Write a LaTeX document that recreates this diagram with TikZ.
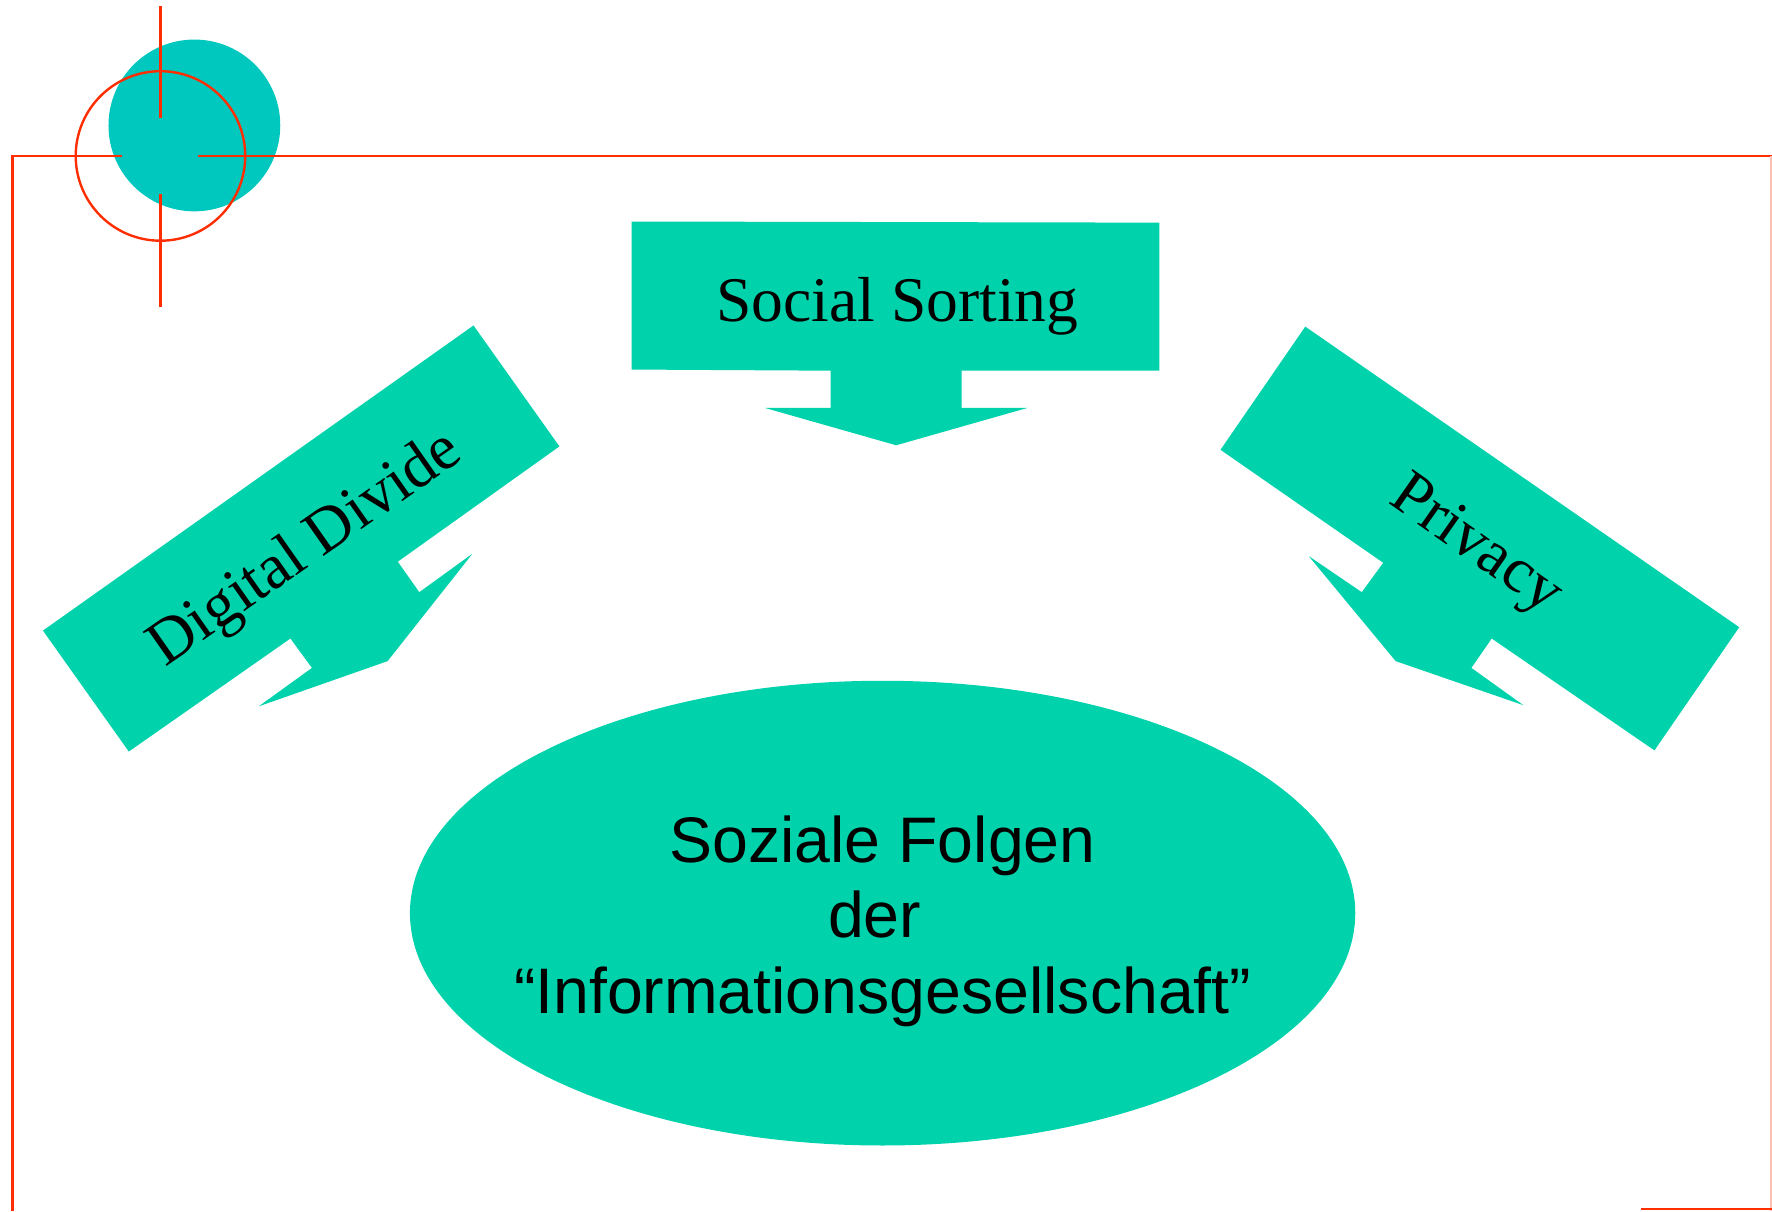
\documentclass[tikz,border=0pt]{standalone}
\usepackage{fontspec}
\setmainfont{Liberation Serif}
\newfontfamily\folgenfont{Liberation Sans}
\usepackage{tikz}
\usetikzlibrary{positioning,shapes.geometric}
\definecolor{shapegreen}{RGB}{0,211,172}
\definecolor{discgreen}{RGB}{0,200,190}
\definecolor{framered}{RGB}{255,45,0}
\tikzset{
    caption/.style = {
        font=\fontsize{16}{19}\selectfont,
        inner sep=0pt
    },
    bigarrow/.style = {
        fill=shapegreen,
        draw=none
    },
    folgen/.style = {
        shape=ellipse,
        fill=shapegreen,
        minimum width=8.36cm,
        minimum height=4.11cm,
        inner sep=0pt
    },
    folgentext/.style = {
        inner sep=0pt,
        align=center,
        font=\folgenfont\fontsize{16.2}{19}\selectfont
    },
    frame/.style = {
        draw=framered,
        line width=0.6pt
    },
}
\begin{document}
\begin{tikzpicture}[x=0.01cm, y=-0.01cm]
            \useasboundingbox (0,0) rectangle (1568,1072);

            % logo in the corner
            \fill[discgreen] (172,111) circle (76);
            \draw[frame] (142,138) circle (75);
            \draw[frame] (142,5) -- (142,104);
            \draw[frame] (142,172) -- (142,272);
            \draw[frame] (11,1072) -- (11,138) -- (108,138);
            \draw[frame] (175,138) -- (1568,138);
            \draw[frame, framered!30] (1567,138) -- (1567,1072);
            \draw[frame] (1452,1070) -- (1568,1070);

            % the three arrows
            \path[bigarrow] (559,196) -- (1026,197) -- (1026,328) -- (851,328) -- (851,361)
                -- (909,361) -- (793,394) -- (677,361) -- (735,361) -- (735,328) -- (559,327) -- cycle;
            \path[bigarrow] (38,558) -- (419,288) -- (495,395) -- (352,497) -- (371,524)
                -- (418,490) -- (343,585) -- (229,625) -- (276,591) -- (257,565) -- (114,665) -- cycle;
            \path[bigarrow] (1155,289) -- (1539,555) -- (1464,664) -- (1320,565) -- (1302,591)
                -- (1348,624) -- (1235,585) -- (1158,492) -- (1205,524) -- (1224,498) -- (1080,398) -- cycle;

            \node[caption] (sorting) at (794,271) {Social Sorting};
            \node[caption, rotate=35] (divide) at (271,487) {Digital Divide};
            \node[caption, rotate=-35] (privacy) at (1305,484) {Privacy};

            % the ellipse in the middle
            \node[folgen] (consequences) at (781,808) {};
            \node[folgentext] (consequencestext) at ([yshift=-0.07cm]consequences.center)
                {Soziale Folgen\\der\makebox[0.14cm]{}\\“Informationsgesellschaft”};
        \end{tikzpicture}
\end{document}
